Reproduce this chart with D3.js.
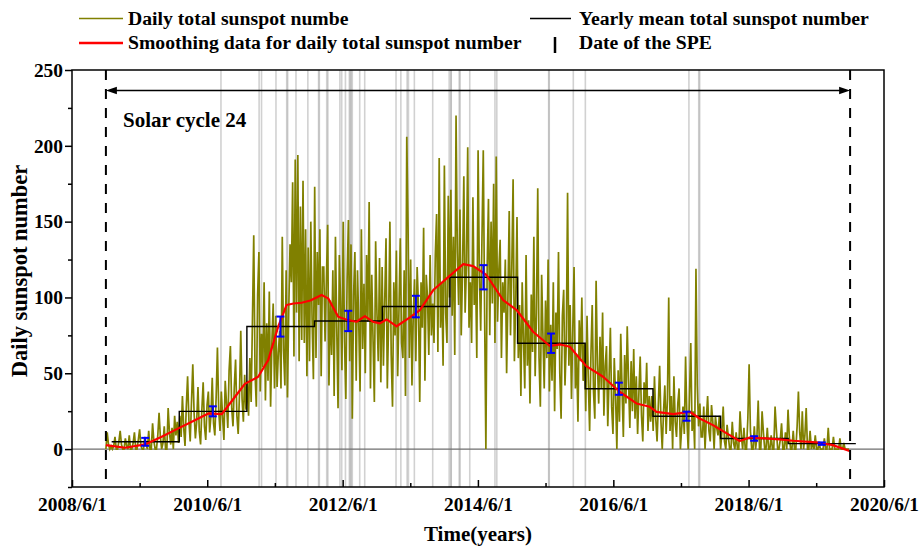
<!DOCTYPE html>
<html>
<head>
<meta charset="utf-8">
<script src="https://cdn.jsdelivr.net/npm/d3@7"></script>
<style>
  body { margin: 0; background: #fff; }
  text { font-family: "Liberation Serif", "Times New Roman", serif; font-weight: bold; fill: #000; }
</style>
</head>
<body>
<svg id="chart" width="921" height="548"></svg>
<script>
// ---- data ----
const xTickDates = ["2008-06-01", "2010-06-01", "2012-06-01", "2014-06-01", "2016-06-01", "2018-06-01", "2020-06-01"];
const xTickLabels = ["2008/6/1", "2010/6/1", "2012/6/1", "2014/6/1", "2016/6/1", "2018/6/1", "2020/6/1"];
const xMinorDates = ["2009-06-01", "2011-06-01", "2013-06-01", "2015-06-01", "2017-06-01", "2019-06-01"];
const yTickValues = [0, 50, 100, 150, 200, 250];
const yMinorValues = [-25, 25, 75, 125, 175, 225];

// total sunspot number, one reading every 7 days from 2008-12-01
const dailyStart = "2008-12-01";
const dailyStepDays = 7;
const dailySunspot = [
  // Dec 2008
  0, 11, 3, 0, 2,
  // 2009
  0, 2, 8, 0, 0, 5, 12, 3, 0, 0, 7, 2, 0, 9, 0, 0, 4, 11, 0, 0, 6, 13, 2, 0, 0, 8,
  3, 0, 12, 0, 0, 17, 5, 0, 0, 9, 24, 8, 0, 4, 15, 0, 0, 27, 11, 3, 14, 0, 22, 9, 18, 4,
  // 2010
  22, 8, 35, 14, 2, 28, 48, 19, 5, 31, 56, 24, 7, 18, 41, 12, 3, 26, 44, 15, 6, 29, 38, 11, 22, 47,
  17, 9, 34, 67, 25, 12, 38, 21, 6, 45, 30, 14, 52, 68, 27, 15, 41, 59, 22, 10, 36, 78, 33, 18, 49, 26,
  // 2011
  45, 22, 60, 31,
  85, 141, 50, 28, 102, 130, 38, 76,
  54, 110, 32, 83, 45, 104, 28, 71, 96, 40, 88, 41, 64,
  78, 40, 140, 65, 42, 118, 34, 92, 135,
  110, 176, 61, 191, 90, 194, 58, 160, 72,
  177, 70, 145, 48, 133, 58, 150, 85, 46,
  // 2012
  173, 60, 130, 95, 145, 48, 120, 120, 71, 110, 148, 42, 98,
  62, 118, 35, 140, 80, 27, 128, 96, 52, 150, 71, 33, 112,
  151, 58, 135, 20, 102, 130, 45, 118, 82, 38, 145, 66, 109,
  50, 128, 84, 163, 40, 115, 72, 31, 137, 90, 58, 126, 44,
  // 2013
  120, 55, 98, 139, 40, 85, 150, 62, 28, 110, 75, 131, 48,
  92, 139, 70, 60, 118, 35, 206, 146, 60, 125, 42, 88, 112,
  58, 120, 95, 31, 110, 80, 146, 45, 115, 100, 62, 128, 75,
  96, 70, 128, 155, 64, 192, 80, 110, 55, 187, 90, 70, 167,
  // 2014
  100, 171, 88, 140, 62, 220, 130, 95, 158, 75, 118, 180, 90,
  120, 199, 80, 110, 70, 166, 95, 120, 60, 197, 115, 78, 140,
  197, 92, 0, 120, 165, 75, 150, 96, 175, 70, 193, 84, 118,
  138, 60, 110, 90, 125, 50, 100, 157, 75, 120, 178, 58, 96,
  // 2015
  153, 60, 95, 35, 110, 72, 40, 128, 55, 85, 30, 102, 64,
  140, 48, 90, 172, 60, 28, 115, 75, 40, 98, 60, 125, 38,
  82, 45, 110, 25, 90, 66, 130, 50, 20, 88, 105, 42, 70,
  169, 55, 95, 33, 78, 120, 40, 62, 18, 85, 58, 100, 45,
  // 2016
  70, 25, 88, 45, 12, 62, 95, 38, 20, 111, 56, 30, 74,
  40, 90, 22, 55, 68, 15, 47, 80, 28, 10, 60, 35, 0,
  52, 18, 76, 40, 8, 62, 30, 81, 45, 14, 58, 25, 66,
  20, 48, 10, 37, 61, 22, 5, 44, 30, 57, 12, 35, 18,
  // 2017
  35, 12, 48, 20, 5, 30, 55, 18, 0, 25, 42, 10, 33,
  100, 12, 35, 0, 48, 18, 8, 30, 40, 0, 14, 28, 10,
  61, 20, 0, 35, 70, 12, 25, 0, 119, 42, 15, 30, 8,
  8, 28, 0, 20, 35, 12, 5, 29, 18, 0, 22, 14, 9,
  // 2018
  22, 0, 12, 28, 5, 0, 16, 8, 0, 0, 18, 4, 0,
  11, 0, 0, 25, 9, 0, 14, 0, 0, 20, 56, 12, 0,
  0, 15, 0, 8, 32, 0, 0, 25, 11, 0, 0, 14, 0,
  0, 9, 0, 0, 28, 13, 0, 0, 6, 17, 0, 0, 11,
  // 2019
  0, 26, 8, 0, 0, 12, 0, 0, 15, 38, 11, 0, 25,
  0, 9, 27, 0, 0, 12, 0, 5, 0, 9, 0, 0, 4,
  0, 0, 0, 7, 0, 0, 14, 0, 0, 0, 8, 0, 0,
  0, 0, 7, 0, 0, 4, 0, 0, 0, 0
];

// smoothed daily sunspot number
const smoothDates = [
  "2008-12-01", "2009-03-15", "2009-06-30", "2009-09-28", "2009-12-08", "2010-03-26", "2010-06-07",
  "2010-08-18", "2010-10-29", "2010-12-21", "2011-03-03", "2011-04-26", "2011-06-19", "2011-08-03",
  "2011-09-10", "2011-10-23", "2011-12-10", "2012-02-08", "2012-03-15", "2012-05-08", "2012-07-01",
  "2012-08-15", "2012-09-29", "2012-11-10", "2012-12-19", "2013-01-24", "2013-03-10", "2013-03-19",
  "2013-05-30", "2013-07-23", "2013-10-03", "2013-12-15", "2014-03-14", "2014-05-07", "2014-07-17",
  "2014-10-15", "2014-12-27", "2015-03-26", "2015-06-24", "2015-08-20", "2015-10-10", "2016-01-07",
  "2016-04-07", "2016-07-05", "2016-10-04", "2016-12-15", "2017-01-20", "2017-04-20", "2017-07-18",
  "2017-09-10", "2017-11-21", "2018-02-19", "2018-04-14", "2018-06-07", "2018-11-16", "2019-01-27",
  "2019-06-20", "2019-08-30", "2019-11-28"
];
const smoothValues = [
  2.6, 0.9, 3.1, 8.1, 12.5, 19, 23.5,
  23, 34.5, 43, 47.7, 58.7, 80.7, 95,
  96, 96.5, 98, 101.6, 99.4, 87.3, 85,
  84, 87.7, 84, 82.9, 85.5, 81.8, 81,
  86.9, 91.7, 104.9, 112.6, 122, 120.7, 114.8,
  98.3, 91.7, 77.4, 68, 69, 67.5, 54.7,
  47.7, 37.8, 30.1, 27.9, 24.6, 23.1, 24.6,
  20.2, 15.8, 9.2, 5.3, 7.7, 6.4, 5.5,
  4.2, 2.6, -1.3
];

// yearly mean total sunspot number with its spread
const yearlyYears = [2009, 2010, 2011, 2012, 2013, 2014, 2015, 2016, 2017, 2018, 2019];
const yearlyMeans = [4.8, 24.9, 80.8, 84.5, 94.0, 113.3, 69.8, 39.8, 21.7, 7.0, 3.6];
const yearlyErrors = [2.6, 3.3, 6.6, 6.7, 7.1, 8.0, 6.4, 4.0, 3.0, 1.5, 0.8];

// solar proton events
const speDates = [
  "2010-08-14", "2011-03-08", "2011-03-21", "2011-06-07", "2011-08-04", "2011-08-09", "2011-09-23",
  "2011-11-26", "2012-01-23", "2012-01-27", "2012-03-07", "2012-03-13", "2012-05-17", "2012-05-27",
  "2012-06-16", "2012-07-07", "2012-07-12", "2012-07-17", "2012-07-23", "2012-09-01", "2012-09-28",
  "2013-03-16", "2013-04-11", "2013-05-15", "2013-05-22", "2013-06-23", "2013-09-30", "2013-12-28",
  "2014-01-06", "2014-01-08", "2014-02-20", "2014-02-25", "2014-04-18", "2014-09-01", "2014-09-11",
  "2015-06-18", "2015-06-21", "2015-10-29", "2016-01-02", "2017-07-14", "2017-09-05", "2017-09-10"
];

const cycleStart = "2008-12-01";
const cycleEnd = "2019-12-01";
const cycleLabel = "Solar cycle 24";

// ---- drawing ----
const parse = d3.utcParse("%Y-%m-%d");
const svg = d3.select("#chart");
const plot = { left: 72, right: 884, top: 70, bottom: 487 };

const x = d3.scaleUtc()
  .domain([parse("2008-06-01"), parse("2020-06-01")])
  .range([plot.left, plot.right]);
const y = d3.scaleLinear()
  .domain([-25, 250])
  .range([plot.bottom, plot.top]);

// SPE date markers
svg.append("g").selectAll("line").data(speDates).join("line")
  .attr("x1", d => x(parse(d))).attr("x2", d => x(parse(d)))
  .attr("y1", plot.top).attr("y2", plot.bottom)
  .attr("stroke", "#9a9a9a").attr("stroke-opacity", 0.45).attr("stroke-width", 1.6);

// zero reference line
svg.append("line")
  .attr("x1", plot.left).attr("x2", plot.right)
  .attr("y1", y(0)).attr("y2", y(0))
  .attr("stroke", "#6e6e6e").attr("stroke-width", 1.4);

// daily series
const t0 = parse(dailyStart);
const daily = dailySunspot.map((v, i) => ({ date: d3.utcDay.offset(t0, i * dailyStepDays), value: v }));
svg.append("path").datum(daily)
  .attr("fill", "none").attr("stroke", "#808000").attr("stroke-width", 1.7)
  .attr("stroke-linejoin", "miter").attr("stroke-miterlimit", 3)
  .attr("d", d3.line().x(d => x(d.date)).y(d => y(d.value)));

// yearly mean steps
const steps = yearlyYears.map((yr, i) => ({ date: new Date(Date.UTC(yr, 0, 1)), value: yearlyMeans[i] }));
steps.push({ date: new Date(Date.UTC(yearlyYears[yearlyYears.length - 1] + 1, 0, 1)), value: yearlyMeans[yearlyMeans.length - 1] });
svg.append("path").datum(steps)
  .attr("fill", "none").attr("stroke", "#000").attr("stroke-width", 1.4)
  .attr("d", d3.line().curve(d3.curveStepAfter).x(d => x(d.date)).y(d => y(d.value)));

// smoothed curve
const smooth = smoothDates.map((d, i) => ({ date: parse(d), value: smoothValues[i] }));
svg.append("path").datum(smooth)
  .attr("fill", "none").attr("stroke", "#ff0000").attr("stroke-width", 2.2)
  .attr("stroke-linejoin", "round")
  .attr("d", d3.line().x(d => x(d.date)).y(d => y(d.value)));

// error bars at mid-year
const bars = yearlyYears.map((yr, i) => ({ date: new Date(Date.UTC(yr, 6, 1)), m: yearlyMeans[i], e: yearlyErrors[i] }));
const eb = svg.append("g").attr("stroke", "#0000ff").attr("stroke-width", 2);
bars.forEach(b => {
  const cx = x(b.date);
  eb.append("line").attr("x1", cx).attr("x2", cx).attr("y1", y(b.m - b.e)).attr("y2", y(b.m + b.e));
  eb.append("line").attr("x1", cx - 4).attr("x2", cx + 4).attr("y1", y(b.m - b.e)).attr("y2", y(b.m - b.e));
  eb.append("line").attr("x1", cx - 4).attr("x2", cx + 4).attr("y1", y(b.m + b.e)).attr("y2", y(b.m + b.e));
});

// cycle boundaries
[cycleStart, cycleEnd].forEach(d => {
  svg.append("line")
    .attr("x1", x(parse(d))).attr("x2", x(parse(d)))
    .attr("y1", plot.top).attr("y2", plot.bottom)
    .attr("stroke", "#000").attr("stroke-width", 2).attr("stroke-dasharray", "10,9");
});

// cycle span arrow
const ay = 90.5;
const ax0 = x(parse(cycleStart)), ax1 = x(parse(cycleEnd));
svg.append("line").attr("x1", ax0 + 4).attr("x2", ax1 - 4).attr("y1", ay).attr("y2", ay)
  .attr("stroke", "#000").attr("stroke-width", 1.5);
svg.append("path").attr("fill", "#000")
  .attr("d", `M${ax0},${ay}L${ax0 + 11},${ay - 3.8}L${ax0 + 11},${ay + 3.8}Z`);
svg.append("path").attr("fill", "#000")
  .attr("d", `M${ax1},${ay}L${ax1 - 11},${ay - 3.8}L${ax1 - 11},${ay + 3.8}Z`);
svg.append("text").attr("x", 123).attr("y", 127).attr("font-size", 21).text(cycleLabel);

// axes
const xAxis = svg.append("g").attr("transform", `translate(0,${plot.bottom})`)
  .call(d3.axisBottom(x).tickValues(xTickDates.map(parse))
    .tickFormat((d, i) => xTickLabels[i]).tickSize(-7).tickPadding(10));
const xMinor = svg.append("g").attr("transform", `translate(0,${plot.bottom})`)
  .call(d3.axisBottom(x).tickValues(xMinorDates.map(parse)).tickFormat("").tickSize(-4));
const yAxis = svg.append("g").attr("transform", `translate(${plot.left},0)`)
  .call(d3.axisLeft(y).tickValues(yTickValues).tickSize(7).tickPadding(2));
const yMinor = svg.append("g").attr("transform", `translate(${plot.left},0)`)
  .call(d3.axisLeft(y).tickValues(yMinorValues).tickFormat("").tickSize(4));
[xAxis, xMinor, yAxis, yMinor].forEach(g => {
  g.select(".domain").remove();
  g.selectAll(".tick line").attr("stroke", "#000").attr("stroke-width", 1.5);
  g.selectAll("text").attr("font-family", "Liberation Serif, serif").attr("font-weight", "bold")
    .attr("font-size", 19.4).attr("fill", "#000");
});

// frame
svg.append("rect")
  .attr("x", plot.left).attr("y", plot.top)
  .attr("width", plot.right - plot.left).attr("height", plot.bottom - plot.top)
  .attr("fill", "none").attr("stroke", "#000").attr("stroke-width", 1.5);

// axis titles
svg.append("text").attr("x", 478).attr("y", 541).attr("text-anchor", "middle")
  .attr("font-size", 21).text("Time(years)");
svg.append("text").attr("transform", "translate(27,271) rotate(-90)").attr("text-anchor", "middle")
  .attr("font-size", 22.5).text("Daily sunspot number");

// legend
const lg = svg.append("g");
lg.append("line").attr("x1", 79).attr("x2", 123).attr("y1", 18.5).attr("y2", 18.5)
  .attr("stroke", "#808000").attr("stroke-width", 1.5);
lg.append("text").attr("x", 128).attr("y", 25).attr("font-size", 19.7).text("Daily total sunspot numbe");
lg.append("line").attr("x1", 79).attr("x2", 123).attr("y1", 43).attr("y2", 43)
  .attr("stroke", "#ff0000").attr("stroke-width", 2.5);
lg.append("text").attr("x", 128).attr("y", 49).attr("font-size", 19.7).text("Smoothing data for daily total sunspot number");
lg.append("line").attr("x1", 530).attr("x2", 571).attr("y1", 18.5).attr("y2", 18.5)
  .attr("stroke", "#000").attr("stroke-width", 1.5);
lg.append("text").attr("x", 579).attr("y", 25).attr("font-size", 19.7).text("Yearly mean total sunspot number");
lg.append("line").attr("x1", 555).attr("x2", 555).attr("y1", 37).attr("y2", 53)
  .attr("stroke", "#000").attr("stroke-width", 2.5);
lg.append("text").attr("x", 579).attr("y", 49).attr("font-size", 19.7).text("Date of the SPE");
</script>
</body>
</html>
